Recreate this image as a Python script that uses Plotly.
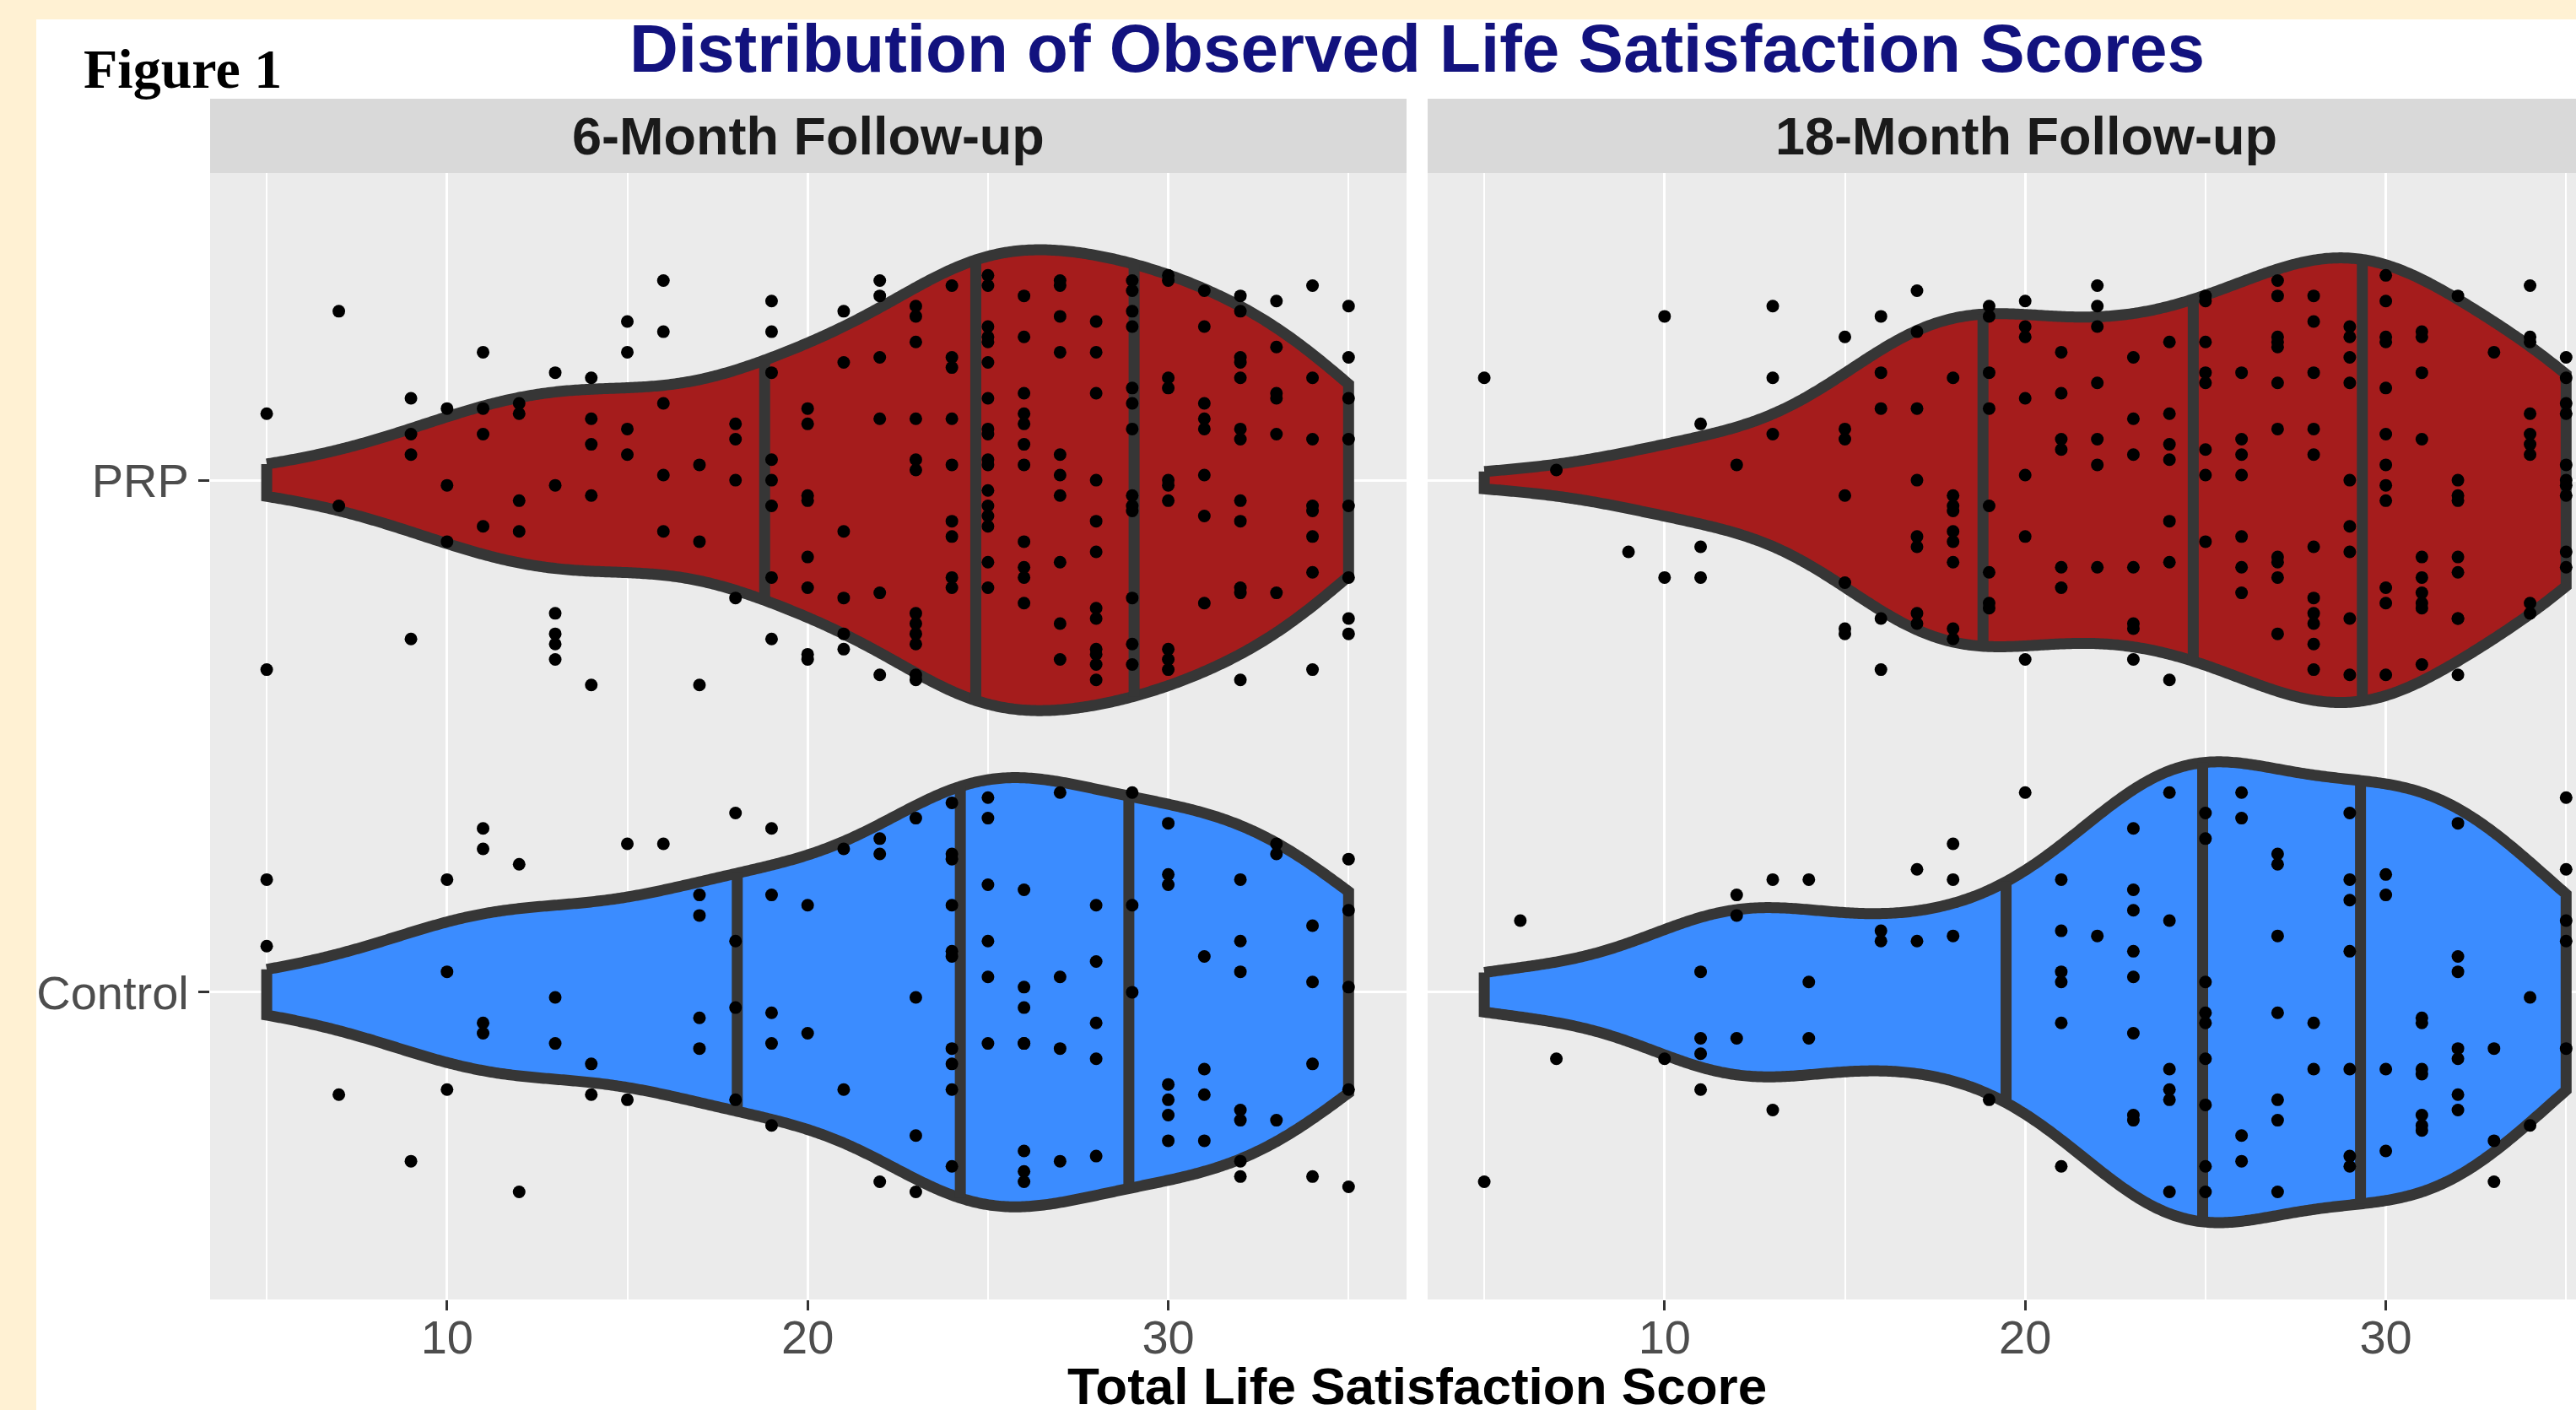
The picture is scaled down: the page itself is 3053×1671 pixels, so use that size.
import numpy as np
import plotly.graph_objects as go

W, H = 3053, 1671

# ---------------- data ----------------
groups = ["Control", "PRP"]
panels = ["6-Month Follow-up", "18-Month Follow-up"]

# unique scores and, for each, the vertical jitter offsets of the dots (category units)
prp6_scores = [5, 7, 9, 10, 11, 12, 13, 14, 15, 16, 17, 18, 19, 20, 21, 22, 23, 24, 25,
               26, 27, 28, 29, 30, 31, 32, 33, 34, 35]
prp6_jitter = [
    [0.13, -0.37], [0.33, -0.05], [0.16, 0.09, 0.05, -0.31], [0.14, -0.01, -0.12],
    [0.25, 0.14, 0.09, -0.09], [0.15, 0.13, -0.04, -0.10],
    [0.21, -0.01, -0.26, -0.30, -0.32, -0.35], [0.20, 0.12, 0.07, -0.03, -0.40],
    [0.31, 0.25, 0.10, 0.05], [0.39, 0.29, 0.15, 0.01, -0.10], [0.03, -0.12, -0.40],
    [0.11, 0.08, 0.00, -0.23], [0.35, 0.29, 0.21, 0.04, 0.00, -0.05, -0.19, -0.31],
    [0.14, 0.11, -0.03, -0.04, -0.15, -0.21, -0.34, -0.35],
    [0.33, 0.23, -0.10, -0.23, -0.30, -0.33], [0.39, 0.36, 0.24, 0.12, -0.22, -0.38],
    [0.34, 0.32, 0.27, 0.12, 0.04, 0.02, -0.26, -0.28, -0.30, -0.32, -0.38, -0.39],
    [0.38, 0.24, 0.22, 0.12, 0.03, -0.08, -0.11, -0.19, -0.21],
    [0.40, 0.38, 0.30, 0.28, 0.27, 0.23, 0.16, 0.10, 0.09, 0.04, 0.03, -0.02, -0.05,
     -0.07, -0.09, -0.16, -0.21],
    [0.36, 0.28, 0.17, 0.13, 0.11, 0.07, 0.03, -0.12, -0.17, -0.19, -0.24],
    [0.39, 0.38, 0.32, 0.25, 0.05, 0.01, -0.03, -0.16, -0.28, -0.35],
    [0.31, 0.25, 0.17, 0.00, -0.08, -0.14, -0.25, -0.27, -0.33, -0.34, -0.36, -0.39],
    [0.39, 0.37, 0.33, 0.30, 0.18, 0.15, 0.10, -0.03, -0.05, -0.06, -0.23, -0.32, -0.36],
    [0.40, 0.39, 0.20, 0.18, 0.00, -0.01, -0.04, -0.33, -0.35, -0.37],
    [0.37, 0.30, 0.15, 0.12, 0.10, 0.01, -0.07, -0.24],
    [0.36, 0.33, 0.24, 0.23, 0.20, 0.10, 0.08, -0.04, -0.08, -0.21, -0.22, -0.39],
    [0.35, 0.26, 0.17, 0.16, 0.09, -0.22],
    [0.38, 0.20, 0.08, -0.05, -0.06, -0.11, -0.18, -0.37],
    [0.34, 0.24, 0.16, 0.08, -0.05, -0.19, -0.27, -0.30],
]

ctrl6_scores = [5, 7, 9, 10, 11, 12, 13, 14, 15, 16, 17, 18, 19, 20, 21, 22, 23, 24, 25,
                26, 27, 28, 29, 30, 31, 32, 33, 34, 35]
ctrl6_jitter = [
    [0.22, 0.09], [-0.20], [-0.33], [0.22, 0.04, -0.19], [0.32, 0.28, -0.06, -0.08],
    [0.25, -0.39], [-0.01, -0.10], [-0.14, -0.20], [0.29, -0.21], [0.29],
    [0.19, 0.15, -0.05, -0.11], [0.35, 0.10, -0.03, -0.21], [0.32, 0.19, -0.04, -0.10, -0.26],
    [0.17, -0.08], [0.28, -0.19], [0.30, 0.27, -0.37], [0.34, -0.01, -0.28, -0.39],
    [0.37, 0.27, 0.26, 0.17, 0.08, 0.07, -0.11, -0.14, -0.19, -0.34],
    [0.38, 0.34, 0.21, 0.10, 0.03, -0.10],
    [0.20, 0.01, -0.03, -0.10, -0.10, -0.31, -0.35, -0.37],
    [0.39, 0.03, -0.11, -0.33], [0.17, 0.06, -0.06, -0.13, -0.32], [0.39, 0.17, 0.00],
    [0.33, 0.23, 0.21, -0.18, -0.21, -0.24, -0.29], [0.07, -0.15, -0.20, -0.29],
    [0.22, 0.10, 0.04, -0.23, -0.25, -0.33, -0.36], [0.29, 0.27, -0.25],
    [0.13, 0.02, -0.14, -0.36], [0.26, 0.16, 0.01, -0.19, -0.38],
]

prp18_scores = [5, 7, 9, 10, 11, 12, 13, 15, 16, 17, 18, 19, 20, 21, 22, 23, 24, 25,
                26, 27, 28, 29, 30, 31, 32, 33, 34, 35]
prp18_jitter = [
    [0.20], [0.02], [-0.14], [0.32, -0.19], [0.11, -0.13, -0.19], [0.03], [0.34, 0.20, 0.09],
    [0.28, 0.10, 0.08, -0.03, -0.20, -0.29, -0.30], [0.32, 0.21, 0.14, -0.27, -0.37],
    [0.37, 0.29, 0.14, 0.00, -0.11, -0.13, -0.26, -0.28],
    [0.20, -0.03, -0.05, -0.06, -0.10, -0.12, -0.16, -0.29, -0.31],
    [0.34, 0.32, 0.21, 0.14, -0.05, -0.18, -0.24, -0.25],
    [0.35, 0.30, 0.28, 0.16, 0.01, -0.11, -0.35], [0.25, 0.17, 0.08, 0.06, -0.17, -0.21],
    [0.38, 0.34, 0.30, 0.19, 0.08, 0.03, -0.17], [0.24, 0.12, 0.05, -0.17, -0.28, -0.29, -0.35],
    [0.27, 0.13, 0.07, 0.04, -0.08, -0.16, -0.39],
    [0.36, 0.35, 0.27, 0.21, 0.19, 0.06, 0.01, -0.12],
    [0.21, 0.08, 0.05, 0.01, -0.11, -0.17, -0.22],
    [0.39, 0.36, 0.28, 0.27, 0.26, 0.19, 0.10, -0.15, -0.16, -0.19, -0.30],
    [0.36, 0.31, 0.21, 0.10, 0.05, -0.13, -0.23, -0.26, -0.28, -0.32, -0.37],
    [0.30, 0.28, 0.24, 0.19, 0.00, -0.09, -0.14, -0.27, -0.38],
    [0.40, 0.35, 0.28, 0.27, 0.18, 0.09, 0.03, -0.01, -0.04, -0.21, -0.24, -0.38],
    [0.29, 0.28, 0.21, 0.08, -0.15, -0.19, -0.22, -0.24, -0.25, -0.36],
    [0.36, 0.00, -0.03, -0.04, -0.15, -0.18, -0.27, -0.27, -0.38], [0.25],
    [0.38, 0.28, 0.27, 0.13, 0.09, 0.07, 0.05, -0.24, -0.26],
    [0.24, 0.20, 0.15, 0.13, 0.03, 0.00, -0.01, -0.03, -0.14, -0.17],
]

ctrl18_scores = [5, 6, 7, 10, 11, 12, 13, 14, 16, 17, 18, 19, 20, 21, 22, 23, 24, 25,
                 26, 27, 28, 29, 30, 31, 32, 33, 34, 35]
ctrl18_jitter = [
    [-0.37], [0.14], [-0.13], [-0.13], [0.04, -0.09, -0.12, -0.19], [0.19, 0.15, -0.09],
    [0.22, -0.23], [0.22, 0.02, -0.09], [0.12, 0.10], [0.24, 0.10], [0.29, 0.22, 0.11],
    [-0.21], [0.39], [0.22, 0.12, 0.04, 0.02, -0.06, -0.34], [0.11],
    [0.32, 0.20, 0.16, 0.08, 0.03, -0.08, -0.24, -0.25],
    [0.39, 0.14, -0.15, -0.19, -0.21, -0.39],
    [0.35, 0.30, 0.02, -0.04, -0.06, -0.13, -0.22, -0.34, -0.39],
    [0.39, 0.34, -0.28, -0.33], [0.27, 0.25, 0.11, -0.04, -0.21, -0.25, -0.39],
    [-0.06, -0.15], [0.35, 0.22, 0.18, 0.08, -0.15, -0.32, -0.34],
    [0.23, 0.19, -0.15, -0.31], [-0.05, -0.06, -0.15, -0.16, -0.24, -0.26, -0.27],
    [0.33, 0.07, 0.04, -0.11, -0.13, -0.20, -0.23], [-0.11, -0.29, -0.37],
    [-0.01, -0.26], [0.38, 0.24, 0.14, 0.10, -0.11],
]

quantiles = [0.25, 0.5, 0.75]
x_ticks = [10, 20, 30]
x_minor = [5, 15, 25, 35]

# ---------------- style ----------------
FILL = {"PRP": "#A51C1C", "Control": "#3B8CFF"}
OUTLINE = "#363636"
PANEL_BG = "#EBEBEB"
STRIP_BG = "#D9D9D9"
CREAM = "#FFF1D3"
FONT = "Liberation Sans, Arial, Helvetica, sans-serif"
LW = 13


def expand(scores, jit):
    xs, js = [], []
    for s, jl in zip(scores, jit):
        for j in jl:
            xs.append(s)
            js.append(j)
    return np.array(xs, float), np.array(js, float)


def kde(v):
    n = len(v)
    sd = v.std(ddof=1)
    q75, q25 = np.percentile(v, [75, 25])
    bw = 0.9 * min(sd, (q75 - q25) / 1.34) * n ** -0.2
    grid = np.linspace(v.min(), v.max(), 512)
    d = np.exp(-0.5 * ((grid[:, None] - v[None, :]) / bw) ** 2).sum(1) / (n * bw * np.sqrt(2 * np.pi))
    return grid, d


data = {
    (0, "PRP"): expand(prp6_scores, prp6_jitter),
    (0, "Control"): expand(ctrl6_scores, ctrl6_jitter),
    (1, "PRP"): expand(prp18_scores, prp18_jitter),
    (1, "Control"): expand(ctrl18_scores, ctrl18_jitter),
}
ypos = {"Control": 1, "PRP": 2}

fig = go.Figure()
for p in range(2):
    xa = "x" if p == 0 else "x2"
    ya = "y" if p == 0 else "y2"
    dens = {g: kde(data[(p, g)][0]) for g in groups}
    dmax = max(d.max() for _, d in dens.values())
    for g in ["PRP", "Control"]:
        grid, d = dens[g]
        half = 0.45 * d / dmax
        c = ypos[g]
        fig.add_trace(go.Scatter(
            x=np.concatenate([grid, grid[::-1], grid[:1]]),
            y=np.concatenate([c + half, (c - half)[::-1], [c + half[0]]]),
            mode="lines", fill="toself", fillcolor=FILL[g],
            line=dict(color=OUTLINE, width=LW, simplify=False), xaxis=xa, yaxis=ya,
            hoverinfo="skip", showlegend=False))
        cdf = np.cumsum(d) / d.sum()
        qx, qy = [], []
        for q in quantiles:
            xq = np.interp(q, cdf, grid)
            wq = np.interp(xq, grid, half)
            qx += [xq, xq, None]
            qy += [c - wq, c + wq, None]
        fig.add_trace(go.Scatter(x=qx, y=qy, mode="lines",
                                 line=dict(color=OUTLINE, width=LW),
                                 xaxis=xa, yaxis=ya, hoverinfo="skip", showlegend=False))
    for g in ["PRP", "Control"]:
        xs, js = data[(p, g)]
        fig.add_trace(go.Scatter(x=xs, y=ypos[g] + js, mode="markers",
                                 marker=dict(color="black", size=15, line=dict(width=0)),
                                 xaxis=xa, yaxis=ya, showlegend=False))

# ---------------- layout ----------------
px_per_unit = 42.74
p1_l, p1_r, p2_l = 249, 1667, 1692
x_lo = 3.43
x1_hi = x_lo + (p1_r - p1_l) / px_per_unit
x2_hi = x_lo + (W - p2_l) / px_per_unit
ptop, pbot = 205, 1540
ydom = [1 - pbot / H, 1 - ptop / H]

tickfont = dict(family=FONT, size=56, color="#4D4D4D")
common_x = dict(tickmode="array", tickvals=x_ticks, ticks="outside", ticklen=12, tickwidth=3,
                tickcolor="#333333", showgrid=True, gridcolor="white", gridwidth=3,
                zeroline=False, showline=False, tickfont=tickfont, ticklabelstandoff=-16,
                minor=dict(tickmode="array", tickvals=x_minor, showgrid=True,
                           gridcolor="white", gridwidth=1.5, ticks=""))
common_y = dict(range=[0.4, 2.6], tickmode="array", tickvals=[1, 2], ticktext=groups,
                showgrid=True, gridcolor="white", gridwidth=3, zeroline=False,
                showline=False, domain=ydom)

fig.update_layout(
    width=W, height=H, margin=dict(l=0, r=0, t=0, b=0),
    paper_bgcolor="white", plot_bgcolor=PANEL_BG, showlegend=False,
    xaxis=dict(domain=[p1_l / W, p1_r / W], range=[x_lo, x1_hi], anchor="y", **common_x),
    xaxis2=dict(domain=[p2_l / W, 1.0], range=[x_lo, x2_hi], anchor="y2", **common_x),
    yaxis=dict(anchor="x", ticks="outside", ticklen=13, tickwidth=3, tickcolor="#333333",
               tickfont=tickfont, **common_y),
    yaxis2=dict(anchor="x2", showticklabels=False, ticks="", **common_y),
)

shapes = [
    dict(type="rect", xref="paper", yref="paper", x0=0, x1=43 / W, y0=0, y1=1,
         fillcolor=CREAM, line=dict(width=0), layer="below"),
    dict(type="rect", xref="paper", yref="paper", x0=0, x1=1, y0=1 - 23 / H, y1=1,
         fillcolor=CREAM, line=dict(width=0), layer="below"),
    dict(type="rect", xref="paper", yref="paper", x0=p1_l / W, x1=p1_r / W,
         y0=1 - ptop / H, y1=1 - 117 / H, fillcolor=STRIP_BG, line=dict(width=0), layer="below"),
    dict(type="rect", xref="paper", yref="paper", x0=p2_l / W, x1=1.0,
         y0=1 - ptop / H, y1=1 - 117 / H, fillcolor=STRIP_BG, line=dict(width=0), layer="below"),
]
fig.update_layout(shapes=shapes)

annos = [
    dict(text="<b>Distribution of Observed Life Satisfaction Scores</b>", x=1679 / W, y=1 - 58 / H,
         font=dict(family=FONT, size=80, color="#12127E")),
    dict(text="<b>Figure 1</b>", x=97 / W, y=1 - 82 / H, xanchor="left",
         font=dict(family="Liberation Serif, Times New Roman, serif", size=66, color="black")),
    dict(text="<b>" + panels[0] + "</b>", x=(p1_l + p1_r) / 2 / W, y=1 - 161 / H,
         font=dict(family=FONT, size=63, color="#1A1A1A")),
    dict(text="<b>" + panels[1] + "</b>", x=(p2_l + p2_l + (p1_r - p1_l)) / 2 / W, y=1 - 161 / H,
         font=dict(family=FONT, size=63, color="#1A1A1A")),
    dict(text="<b>Total Life Satisfaction Score</b>", x=1679 / W, y=1 - 1642 / H,
         font=dict(family=FONT, size=62, color="black")),
]
for a in annos:
    a.setdefault("xanchor", "center")
    a.update(xref="paper", yref="paper", yanchor="middle", showarrow=False)
fig.update_layout(annotations=annos)

fig.write_html("out.html", config={"displayModeBar": False},
               post_script="document.body.style.margin='0px';document.body.style.overflow='hidden';")
